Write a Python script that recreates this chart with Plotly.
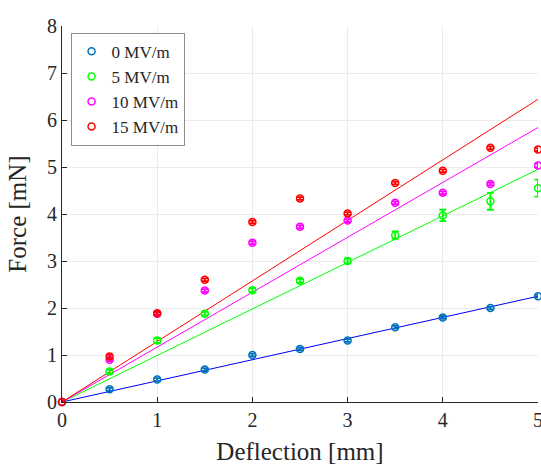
import plotly.graph_objects as go

# Measured force vs. deflection at four electric field strengths
deflection = [0, 0.5, 1, 1.5, 2, 2.5, 3, 3.5, 4, 4.5, 5]
field_labels = ["0 MV/m", "5 MV/m", "10 MV/m", "15 MV/m"]

force_0 = [0, 0.27, 0.48, 0.69, 1.00, 1.13, 1.31, 1.59, 1.80, 2.00, 2.25]
force_5 = [0, 0.65, 1.31, 1.88, 2.38, 2.58, 3.00, 3.55, 3.97, 4.27, 4.55]
force_10 = [0, 0.90, 1.88, 2.37, 3.39, 3.73, 3.86, 4.24, 4.45, 4.64, 5.03]
force_15 = [0, 0.97, 1.89, 2.60, 3.83, 4.33, 4.01, 4.66, 4.92, 5.41, 5.37]

err_0 = [0.03, 0.03, 0.03, 0.03, 0.03, 0.03, 0.03, 0.03, 0.03, 0.03, 0.03]
err_5 = [0.03, 0.04, 0.05, 0.04, 0.04, 0.04, 0.05, 0.08, 0.12, 0.18, 0.18]
err_10 = [0.03, 0.03, 0.03, 0.03, 0.03, 0.03, 0.03, 0.03, 0.03, 0.03, 0.04]
err_15 = [0.03, 0.04, 0.03, 0.03, 0.03, 0.03, 0.03, 0.03, 0.03, 0.03, 0.03]

# Linear fit slopes [mN/mm]
fit_slopes = [0.45, 0.99, 1.168, 1.288]
fit_x = [0, 5]

marker_colors = ["#0072BD", "#00FF00", "#FF00FF", "#FF0000"]
line_colors = ["#0000FF", "#00FF00", "#FF00FF", "#FF0000"]

forces = [force_0, force_5, force_10, force_15]
errors = [err_0, err_5, err_10, err_15]

font_family = "Liberation Serif"

fig = go.Figure()

for slope, lc in zip(fit_slopes, line_colors):
    fig.add_trace(go.Scatter(
        x=fit_x, y=[slope * xv for xv in fit_x], mode="lines",
        line=dict(color=lc, width=1), showlegend=False, hoverinfo="skip",
    ))

for name, f, e, mc in zip(field_labels, forces, errors, marker_colors):
    fig.add_trace(go.Scatter(
        x=deflection, y=f, mode="markers", name=name,
        marker=dict(symbol="circle-open", size=7, color=mc, line=dict(width=1.5)),
        error_y=dict(type="data", array=e, visible=True, color=mc,
                     thickness=1.8, width=3.5),
        cliponaxis=False,
    ))

axis_common = dict(
    showline=True, linecolor="#262626", linewidth=1.2,
    ticks="inside", ticklen=5, tickcolor="#262626",
    showgrid=True, gridcolor="#ebebeb", gridwidth=1,
    zeroline=False, mirror=False, ticklabeloverflow="allow",
    automargin=False,
    tickfont=dict(family=font_family, size=20, color="#262626"),
)

fig.update_layout(
    width=541, height=466,
    margin=dict(l=62, r=3, t=26, b=64),
    paper_bgcolor="white", plot_bgcolor="white",
    font=dict(family=font_family, color="#262626"),
    xaxis=dict(range=[0, 5], dtick=1,
               title=dict(text="Deflection [mm]", font=dict(family=font_family, size=25),
                          standoff=12),
               **axis_common),
    yaxis=dict(range=[0, 8], dtick=1,
               title=dict(text="Force [mN]", font=dict(family=font_family, size=25),
                          standoff=13),
               **axis_common),
    legend=dict(
        x=0.018, y=0.982, xanchor="left", yanchor="top",
        bgcolor="white", bordercolor="#8c8c8c", borderwidth=1,
        font=dict(family=font_family, size=17, color="#262626"),
        itemwidth=30, tracegroupgap=0,
    ),
)

fig.write_html("out.html")
